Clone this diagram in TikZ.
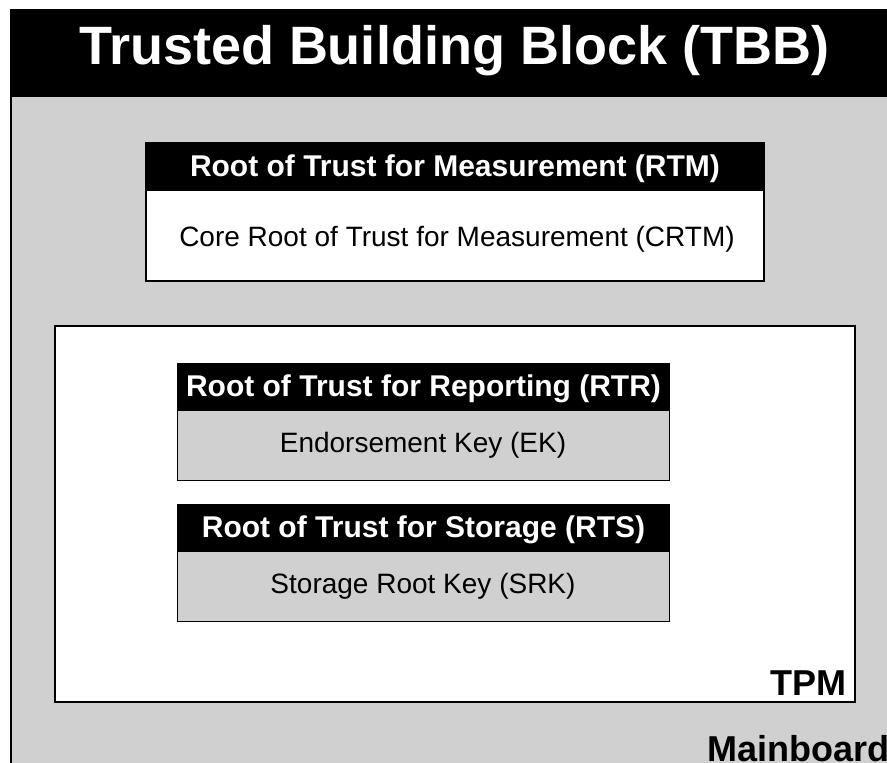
\documentclass[tikz,border=0pt]{standalone}
\usepackage{fontspec}
\setmainfont{Liberation Sans}
\definecolor{boardgray}{RGB}{208,208,208}
\tikzset{
  px/.style={x=1pt,y=-1pt},
  frame/.style={draw=black,line width=#1},
  headtext/.style={text=white,font=\bfseries\fontsize{30}{36}\selectfont,anchor=base,inner sep=0pt},
  bodytext/.style={text=black,font=\fontsize{28}{34}\selectfont,anchor=base,inner sep=0pt},
  labeltext/.style={text=black,font=\bfseries\fontsize{36}{42}\selectfont,inner sep=0pt}
}
\begin{document}
\begin{tikzpicture}[px]
\useasboundingbox (0,0) rectangle (887,763);
\fill[white] (0,0) rectangle (887,763);
\begin{scope}
\clip (0,0) rectangle (887,763);
% Trusted Building Block on the mainboard
\fill[boardgray] (11,97) rectangle (900,780);
\fill[black] (11,10) rectangle (900,97);
\draw[frame=2pt] (11,780) -- (11,10) -- (900,10);
\node[text=white,font=\bfseries\fontsize{54}{60}\selectfont,anchor=base,inner sep=0pt] (tbb) at (454,64) {Trusted Building Block (TBB)};
\node[labeltext,anchor=base west] (mainboard) at (707,761) {Mainboard};
\end{scope}
% Root of Trust for Measurement
\fill[white] (146,191) rectangle (764,281);
\fill[black] (146,143) rectangle (764,191);
\draw[frame=1.3pt] (146,143) rectangle (764,281);
\node[headtext] (rtm) at (455,176) {Root of Trust for Measurement (RTM)};
\node[bodytext] (crtm) at (457,246) {Core Root of Trust for Measurement (CRTM)};
% Trusted Platform Module
\fill[white] (55,326) rectangle (855,702);
\draw[frame=2.5pt] (55,326) rectangle (855,702);
\node[labeltext,anchor=base east] (tpm) at (847,695) {TPM};
% Root of Trust for Reporting
\fill[boardgray] (177,411) rectangle (669,480);
\fill[black] (177,363) rectangle (670,411);
\draw[frame=1pt] (177,411) -- (177,480) -- (669,480) -- (669,411);
\node[headtext] (rtr) at (423.5,396) {Root of Trust for Reporting (RTR)};
\node[bodytext] (ek) at (423,452) {Endorsement Key (EK)};
% Root of Trust for Storage
\fill[boardgray] (177,552) rectangle (669,621);
\fill[black] (177,504) rectangle (670,552);
\draw[frame=1pt] (177,552) -- (177,621) -- (669,621) -- (669,552);
\node[headtext] (rts) at (423.5,537) {Root of Trust for Storage (RTS)};
\node[bodytext] (srk) at (423,593) {Storage Root Key (SRK)};
\end{tikzpicture}
\end{document}
